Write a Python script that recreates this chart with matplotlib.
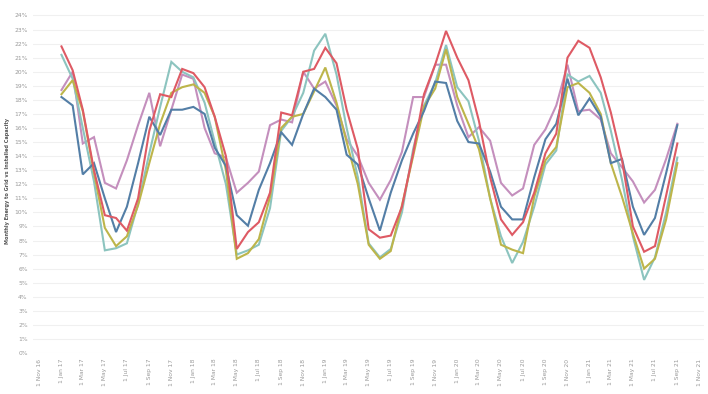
import numpy as np
import pandas as pd
import matplotlib
matplotlib.use("Agg")
import matplotlib.pyplot as plt
import matplotlib.dates as mdates
from matplotlib.ticker import MultipleLocator, FuncFormatter

# monthly values, Jan 2017 .. Sep 2021 (percent)
months = pd.date_range("2017-01-01", periods=57, freq="MS")

red = [21.8, 20.1, 17.3, 13.0, 9.8, 9.6, 8.7, 11.0, 15.8, 18.4, 18.2, 20.2,
       19.9, 18.9, 16.8, 14.0, 7.4, 8.6, 9.3, 11.4, 17.1, 16.9, 20.0, 20.2,
       21.7, 20.6, 17.3, 14.5, 8.8, 8.2, 8.35, 10.4, 14.2, 18.4, 20.5, 22.9,
       21.0, 19.4, 16.5, 12.5, 9.5, 8.4, 9.3, 11.4, 14.2, 15.6, 21.0, 22.2,
       21.7, 19.6, 17.1, 13.7, 9.0, 7.2, 7.6, 11.2, 14.9]
pink = [18.7, 20.0, 14.9, 15.35, 12.1, 11.7, 13.7, 16.2, 18.5, 14.7, 17.3, 19.8,
        19.5, 16.0, 14.2, 13.9, 11.4, 12.1, 12.9, 16.2, 16.6, 16.4, 20.0, 18.8,
        19.3, 17.6, 15.2, 14.0, 12.1, 10.9, 12.3, 14.3, 18.2, 18.2, 20.5, 20.5,
        17.6, 15.35, 16.06, 15.1, 12.1, 11.2, 11.7, 14.8, 15.9, 17.6, 20.5, 17.2,
        17.3, 16.6, 14.2, 13.2, 12.2, 10.7, 11.6, 13.8, 16.3]
teal = [21.2, 19.5, 16.0, 12.2, 7.3, 7.45, 7.8, 10.6, 14.2, 17.5, 20.7, 20.0,
        19.6, 17.8, 15.0, 12.0, 7.0, 7.3, 7.7, 10.3, 15.8, 16.8, 18.5, 21.5,
        22.7, 19.8, 16.0, 12.5, 7.8, 6.8, 7.4, 10.0, 14.5, 17.6, 19.2, 21.9,
        18.9, 17.9, 15.1, 11.0, 8.3, 6.4, 7.9, 10.4, 13.4, 14.4, 19.8, 19.3,
        19.7, 18.5, 15.8, 12.3, 8.3, 5.2, 6.8, 10.0, 13.9]
olive = [18.4, 19.4, 17.2, 12.8, 8.9, 7.6, 8.3, 10.5, 13.5, 16.3, 18.5, 18.9,
         19.1, 18.5, 16.8, 13.0, 6.7, 7.1, 8.1, 11.1, 16.0, 16.8, 17.0, 18.6,
         20.3, 17.8, 15.0, 12.0, 7.7, 6.7, 7.25, 10.5, 14.0, 17.5, 18.8, 21.6,
         18.2, 16.3, 14.5, 11.0, 7.7, 7.35, 7.1, 11.1, 13.7, 14.65, 18.9, 19.2,
         18.5, 17.0, 13.5, 11.1, 8.5, 6.0, 6.7, 9.5, 13.5]
blue = [18.2, 17.6, 12.7, 13.5, 11.0, 8.6, 10.4, 13.5, 16.8, 15.5, 17.3, 17.3,
        17.5, 17.0, 14.6, 13.3, 9.8, 9.05, 11.6, 13.5, 15.7, 14.8, 17.0, 18.8,
        18.2, 17.3, 14.1, 13.4, 11.0, 8.7, 11.4, 13.7, 15.6, 17.2, 19.3, 19.2,
        16.5, 15.0, 14.9, 12.9, 10.4, 9.5, 9.5, 12.5, 15.2, 16.3, 19.5, 16.9,
        18.1, 16.8, 13.5, 13.8, 10.4, 8.4, 9.6, 12.8, 16.2]

series = [
    (pink, "#c48fbd"),
    (teal, "#8cc4bf"),
    (olive, "#bdb54a"),
    (blue, "#537ea6"),
    (red, "#de5a64"),
]

fig = plt.figure(figsize=(7.08, 3.94), dpi=100)
ax = fig.add_axes([0.047, 0.104, 0.948, 0.871])

for vals, col in series:
    ax.plot(months, vals, color=col, linewidth=1.5, solid_joinstyle="miter")

ax.set_ylim(0, 24.4)
ax.set_xlim(pd.Timestamp("2016-10-15"), pd.Timestamp("2021-11-15"))

ax.yaxis.set_major_locator(MultipleLocator(1))
ax.yaxis.set_major_formatter(FuncFormatter(lambda v, p: f"{v:.0f}%"))
ax.xaxis.set_major_locator(mdates.MonthLocator(bymonth=[1, 3, 5, 7, 9, 11]))
ax.xaxis.set_major_formatter(mdates.DateFormatter("1 %b %y"))

ax.grid(axis="y", color="#f0f0f0", linewidth=0.8)
ax.set_axisbelow(True)
for s in ax.spines.values():
    s.set_visible(False)
ax.tick_params(axis="both", length=0, labelsize=4.3, labelcolor="#999999", pad=4)
plt.setp(ax.get_xticklabels(), rotation=90)

ax.set_ylabel("Monthly Energy to Grid vs Installed Capacity", fontsize=3.6,
              color="#555555", fontweight="bold", labelpad=3)

fig.savefig("out.png", dpi=100)
